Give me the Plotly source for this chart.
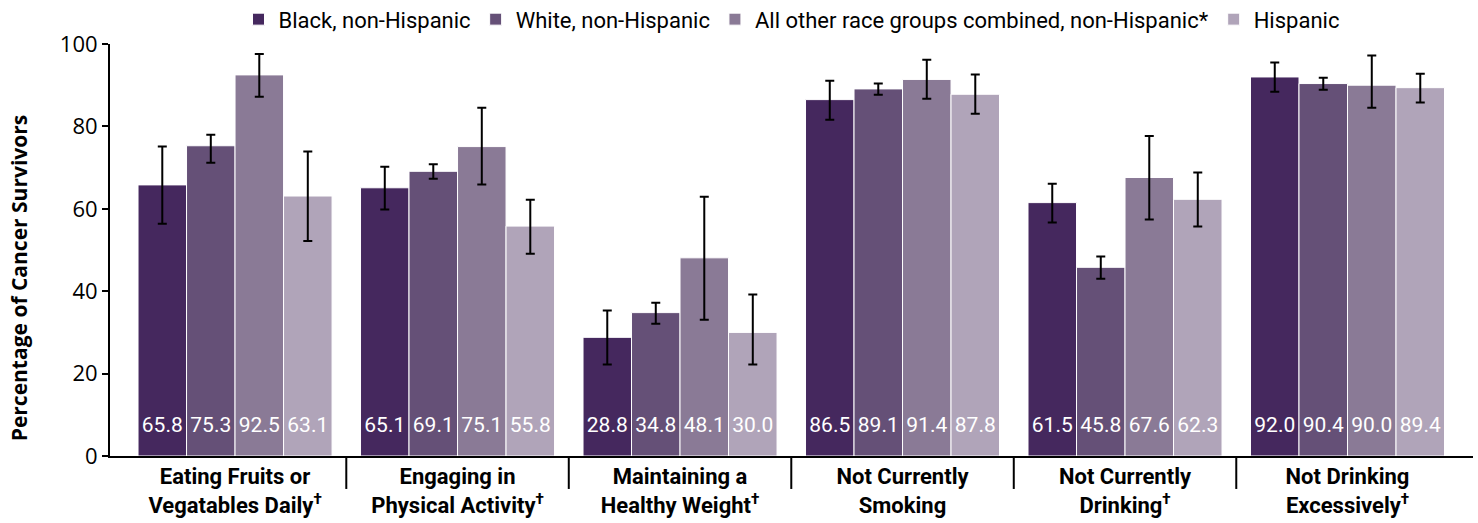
import plotly.graph_objects as go

# Health behaviours among cancer survivors, by race/ethnicity
categories = [
    "Eating Fruits or<br>Vegatables Daily<sup>†</sup>",
    "Engaging in<br>Physical Activity<sup>†</sup>",
    "Maintaining a<br>Healthy Weight<sup>†</sup>",
    "Not Currently<br>Smoking",
    "Not Currently<br>Drinking<sup>†</sup>",
    "Not Drinking<br>Excessively<sup>†</sup>",
]

series_names = [
    "Black, non-Hispanic",
    "White, non-Hispanic",
    "All other race groups combined, non-Hispanic*",
    "Hispanic",
]

black_vals = [65.8, 65.1, 28.8, 86.5, 61.5, 92.0]
white_vals = [75.3, 69.1, 34.8, 89.1, 45.8, 90.4]
other_vals = [92.5, 75.1, 48.1, 91.4, 67.6, 90.0]
hisp_vals = [63.1, 55.8, 30.0, 87.8, 62.3, 89.4]

# 95% confidence interval bounds
black_lo = [56.4, 59.8, 22.2, 81.6, 56.7, 88.4]
black_hi = [75.1, 70.2, 35.3, 91.1, 66.1, 95.5]
white_lo = [71.2, 67.3, 32.1, 87.7, 43.0, 88.9]
white_hi = [78.0, 70.8, 37.2, 90.4, 48.4, 91.8]
other_lo = [87.2, 65.9, 33.1, 86.7, 57.4, 84.5]
other_hi = [97.6, 84.5, 62.9, 96.2, 77.7, 97.2]
hisp_lo = [52.2, 49.1, 22.2, 83.1, 55.7, 85.8]
hisp_hi = [73.9, 62.2, 39.2, 92.6, 68.8, 92.8]

colors = ["#45285E", "#655077", "#8A7A96", "#B0A4B9"]

values = [black_vals, white_vals, other_vals, hisp_vals]
lows = [black_lo, white_lo, other_lo, hisp_lo]
highs = [black_hi, white_hi, other_hi, hisp_hi]

n_series = len(series_names)
group_width = 0.872
bar_w = group_width / n_series

fig = go.Figure()

for j, (name, vals, lo, hi, col) in enumerate(zip(series_names, values, lows, highs, colors)):
    xs = [i + (j - (n_series - 1) / 2) * bar_w for i in range(len(categories))]
    fig.add_trace(go.Bar(
        x=xs,
        y=vals,
        width=bar_w,
        name=name,
        marker=dict(color=col, line=dict(color="white", width=1)),
        error_y=dict(
            type="data",
            symmetric=False,
            array=[h - v for h, v in zip(hi, vals)],
            arrayminus=[v - l for v, l in zip(vals, lo)],
            color="black",
            thickness=2,
            width=4.5,
        ),
        hoverinfo="skip",
    ))
    # value labels near the base of each bar
    fig.add_trace(go.Scatter(
        x=xs,
        y=[7.1] * len(vals),
        mode="text",
        text=[f"{v:.1f}" for v in vals],
        textposition="middle center",
        textfont=dict(family="Roboto", size=21, color="white"),
        showlegend=False,
        hoverinfo="skip",
    ))

# short dividers between category groups below the axis
for k in range(1, len(categories)):
    fig.add_shape(
        type="line",
        xref="x", yref="paper",
        x0=k - 0.5, x1=k - 0.5,
        y0=0, y1=-0.08,
        line=dict(color="black", width=2),
    )

fig.add_annotation(
    text="<b>Percentage of Cancer Survivors</b>",
    xref="paper", yref="paper",
    x=-0.067, y=0.433,
    xanchor="center", yanchor="middle",
    textangle=-90,
    showarrow=False,
    font=dict(family="Open Sans", size=21, color="black"),
)

fig.update_layout(
    width=1478,
    height=523,
    margin=dict(l=110, r=5, t=44, b=67, autoexpand=False),
    plot_bgcolor="white",
    paper_bgcolor="white",
    barmode="overlay",
    showlegend=True,
    legend=dict(
        orientation="h",
        x=0.5, xanchor="center",
        yref="container",
        y=0.963, yanchor="middle",
        font=dict(family="Roboto", size=22, color="black"),
        traceorder="normal",
        itemwidth=30,
    ),
    xaxis=dict(
        range=[-0.562, 5.564],
        tickvals=list(range(len(categories))),
        ticktext=[f"<b>{c}</b>" for c in categories],
        tickfont=dict(family="Roboto", size=22, color="black"),
        showline=True,
        linecolor="black",
        linewidth=2,
        ticks="",
        showgrid=False,
        zeroline=False,
        fixedrange=True,
    ),
    yaxis=dict(
        range=[0, 100],
        tickvals=[0, 20, 40, 60, 80, 100],
        tickfont=dict(family="Open Sans", size=22, color="black"),
        showline=True,
        linecolor="black",
        linewidth=2,
        ticks="outside",
        ticklen=6,
        tickwidth=2,
        tickcolor="black",
        showgrid=False,
        zeroline=False,
        fixedrange=True,
    ),
)

fig.write_html("out.html")
